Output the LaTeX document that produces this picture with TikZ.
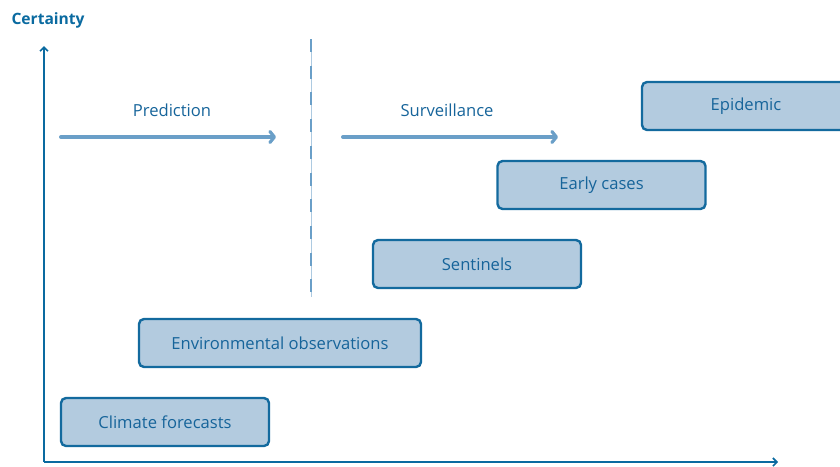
\documentclass[tikz,border=0pt]{standalone}
\usepackage{fontspec}
\setmainfont{Open Sans}
\usetikzlibrary{arrows.meta}
\definecolor{axisblue}{HTML}{0A6AA0}
\definecolor{boxfill}{HTML}{B3CBDF}
\definecolor{boxline}{HTML}{136A9E}
\definecolor{flowblue}{HTML}{6A9FC8}
\definecolor{textblue}{HTML}{16649A}
\tikzset{
  stage/.style={draw=boxline, line width=2.4pt, fill=boxfill, rounded corners=5pt,
    minimum width=#1, minimum height=48pt, inner sep=0pt,
    text=textblue, font=\fontsize{16.6}{19}\selectfont},
  stage/.default=208pt,
  axis/.style={draw=axisblue, line width=2pt, -{Straight Barb[length=4pt,width=8pt,line width=1.6pt]}},
  flow/.style={draw=flowblue, line width=4pt, line cap=round,
    -{Straight Barb[length=4.5pt,width=11pt,line width=3.2pt,round]}},
  phase/.style={text=textblue, font=\fontsize{16.6}{19}\selectfont},
}
\begin{document}
\begin{tikzpicture}[x=1pt,y=-1pt]
  \useasboundingbox (0,0) rectangle (840,466);
  \clip (0,0) rectangle (840,466);
  % axes
  \coordinate (origin) at (44,462);
  \coordinate (ytip) at (44,46);
  \coordinate (xtip) at (778,462);
  \draw[axis] (origin) -- (ytip);
  \draw[axis] (origin) -- (xtip);
  \node[anchor=west, text=axisblue, font=\bfseries\fontsize{15.6}{18}\selectfont] (ylabel) at (8,20) {Certainty};
  % boundary between prediction and surveillance
  \coordinate (divtop) at (311,39);
  \coordinate (divbot) at (311,297);
  \draw[flowblue!55, line width=0.8pt] (divtop) -- (divbot);
  \draw[flowblue, line width=2.6pt, dash pattern=on 13pt off 13.7pt] (divtop) -- (divbot);
  % phases
  \coordinate (p1) at (61,137);
  \coordinate (p2) at (276,137);
  \coordinate (s1) at (343,137);
  \coordinate (s2) at (558,137);
  \draw[flow] (p1) -- (p2);
  \draw[flow] (s1) -- (s2);
  \node[phase] (prediction) at (172,110) {Prediction};
  \node[phase] (surveillance) at (447,110) {Surveillance};
  % stages
  \node[stage] (climate) at (165,422) {Climate forecasts};
  \node[stage=282pt] (env) at (280,343) {Environmental observations};
  \node[stage] (sentinels) at (477,264) {Sentinels};
  \node[stage] (early) at (601.5,185) {Early cases};
  \node[stage, text width=208pt, align=center] (epidemic) at (746,106) {Epidemic};
\end{tikzpicture}
\end{document}
